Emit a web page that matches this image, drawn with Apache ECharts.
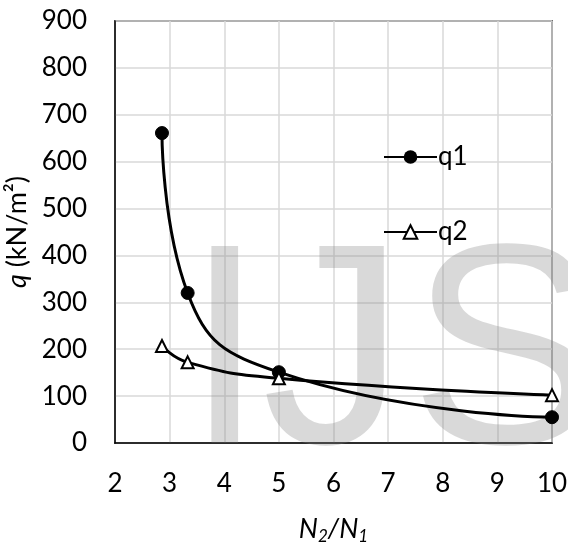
<!DOCTYPE html>
<html>
<head>
<meta charset="utf-8">
<script src="https://cdn.jsdelivr.net/npm/echarts@6/dist/echarts.min.js"></script>
<style>
html,body{margin:0;padding:0;background:#fff;}
#chart{width:568px;height:547px;}
</style>
</head>
<body>
<div id="chart"></div>
<script>
var ratio = [2.86, 3.33, 5, 10];
var q1 = [661, 320, 151, 55];
var q2 = [207, 172, 138, 102];
var xTicks = [2, 3, 4, 5, 6, 7, 8, 9, 10];
var yTicks = [0, 100, 200, 300, 400, 500, 600, 700, 800, 900];

var FONT = 'Lato';
var chart = echarts.init(document.getElementById('chart'), null, {renderer: 'canvas'});
function pairs(xs, ys) { return xs.map(function (x, i) { return [x, ys[i]]; }); }
function wm(ch, x) {
  return {
    type: 'text', x: x, y: 364, z: 1, silent: true,
    style: {text: ch, fontFamily: 'Liberation Sans', fontSize: 286, fill: 'rgba(128,128,128,0.3)', textAlign: 'left', textVerticalAlign: 'middle'}
  };
}

chart.setOption({
  backgroundColor: '#fff',
  animation: false,
  grid: {left: 115, right: 16, top: 21, bottom: 104, containLabel: false, outerBoundsMode: 'none', show: true, borderColor: '#000', borderWidth: 1.5, backgroundColor: 'transparent'},
  graphic: [wm('I', 185), wm('J', 262), wm('S', 410)],
  legend: {
    orient: 'vertical', left: 378, top: 139, itemGap: 49, itemWidth: 53, itemHeight: 17,
    data: ['q1', 'q2'],
    textStyle: {fontFamily: FONT, fontSize: 26, color: '#000', padding: [0, 0, 0, -4]}
  },
  xAxis: {
    type: 'value', min: xTicks[0], max: xTicks[xTicks.length - 1], interval: 1,
    name: '{i|N}{s|2}{i|/N}{s|1}', nameLocation: 'middle', nameGap: 70,
    nameTextStyle: {
      rich: {
        i: {fontFamily: FONT, fontSize: 27, fontStyle: 'italic', color: '#000', lineHeight: 32, verticalAlign: 'middle'},
        s: {fontFamily: FONT, fontSize: 17, fontStyle: 'italic', color: '#000', lineHeight: 17, verticalAlign: 'bottom'}
      }
    },
    axisLine: {show: true, lineStyle: {color: '#000', width: 1.5}},
    axisTick: {show: false},
    axisLabel: {fontFamily: FONT, fontSize: 26, color: '#000', margin: 28},
    splitLine: {show: true, lineStyle: {color: '#d9d9d9', width: 1.5}}
  },
  yAxis: {
    type: 'value', min: yTicks[0], max: yTicks[yTicks.length - 1], interval: 100,
    name: '{i|q}{n| (kN/m²)}', nameLocation: 'middle', nameGap: 80, nameRotate: 90,
    nameTextStyle: {
      rich: {
        i: {fontFamily: FONT, fontSize: 27, fontStyle: 'italic', color: '#000'},
        n: {fontFamily: FONT, fontSize: 27, color: '#000'}
      }
    },
    axisLine: {show: true, lineStyle: {color: '#000', width: 1.5}},
    axisTick: {show: false},
    axisLabel: {fontFamily: FONT, fontSize: 26, color: '#000', margin: 28},
    splitLine: {show: true, lineStyle: {color: '#d9d9d9', width: 1.5}}
  },
  series: [
    {
      name: 'q1', type: 'line', data: pairs(ratio, q1), smooth: 0.5, z: 3,
      symbol: 'circle', symbolSize: 13,
      lineStyle: {color: '#000', width: 3},
      itemStyle: {color: '#000', borderColor: '#000'}
    },
    {
      name: 'q2', type: 'line', data: pairs(ratio, q2), smooth: 0.5, z: 3,
      symbol: 'triangle', symbolSize: 12,
      lineStyle: {color: '#000', width: 3},
      itemStyle: {color: '#fff', borderColor: '#000', borderWidth: 2}
    }
  ]
});
</script>
</body>
</html>
